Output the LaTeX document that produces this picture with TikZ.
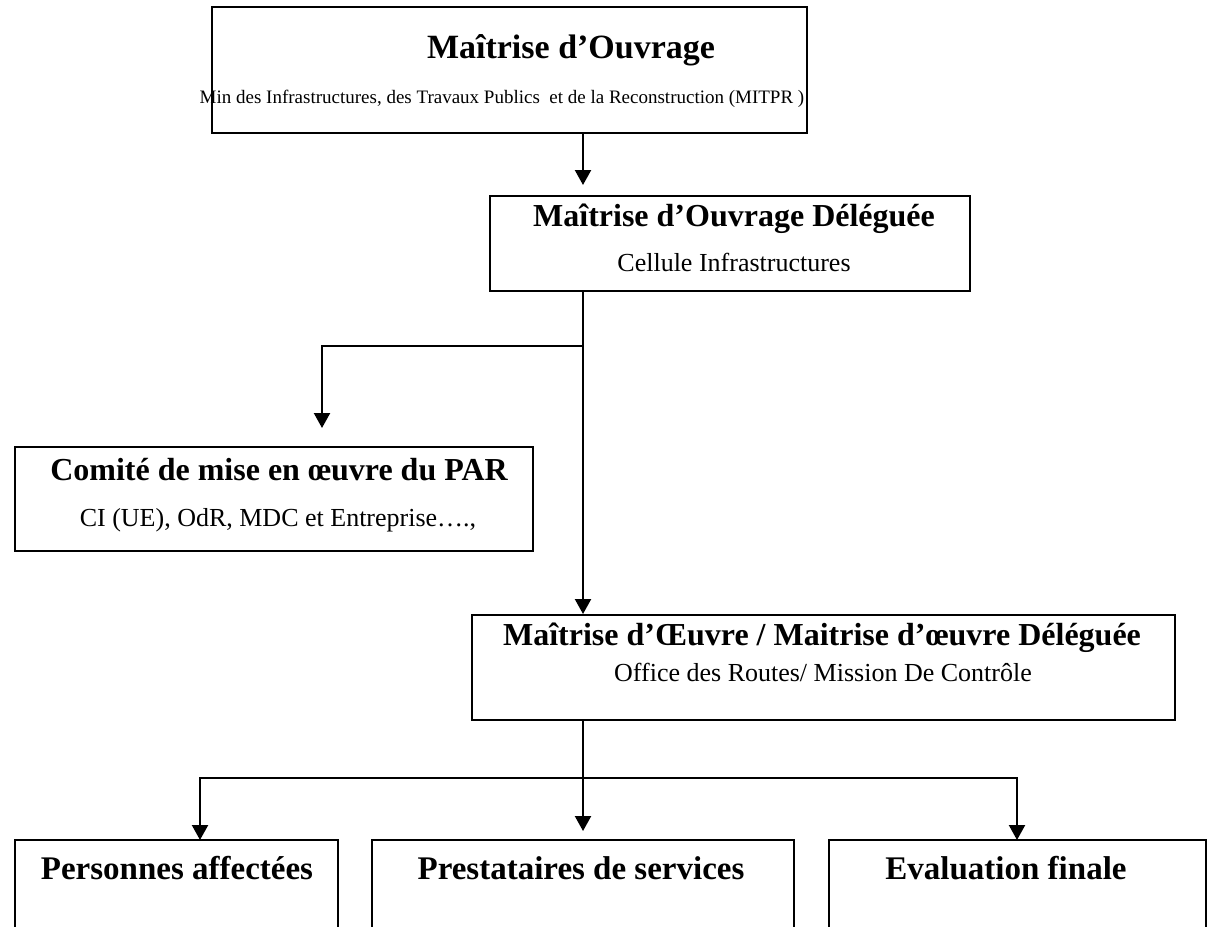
\documentclass[tikz,border=0pt]{standalone}
\usepackage{fontspec}
\setmainfont{Liberation Serif}
\usetikzlibrary{arrows.meta}
\begin{document}
\begin{tikzpicture}[x=1pt,y=-1pt,
  box/.style={draw,line width=2.2pt,inner sep=0pt},
  openbox/.style={inner sep=0pt},
  ttl/.style={font=\fontsize{32}{38}\selectfont\bfseries,inner sep=0pt},
  bigttl/.style={font=\fontsize{34}{40}\selectfont\bfseries,inner sep=0pt},
  botttl/.style={font=\fontsize{33}{39}\selectfont\bfseries,inner sep=0pt},
  sub/.style={font=\fontsize{26}{31}\selectfont,inner sep=0pt},
  smallsub/.style={font=\fontsize{19}{23}\selectfont,inner sep=0pt},
  conn/.style={line width=2.2pt},
  arr/.style={conn,-{Triangle[length=15pt,width=16pt]}}]
\useasboundingbox (0,0) rectangle (1209,926);
% boxes
\node[box,minimum width=595pt,minimum height=126pt] (A) at (509.5,70) {};
\node[box,minimum width=480pt,minimum height=95pt] (B) at (730,243.5) {};
\node[box,minimum width=518pt,minimum height=104pt] (C) at (274,499) {};
\node[box,minimum width=703pt,minimum height=105pt] (D) at (823.5,667.5) {};
\node[openbox,minimum width=323pt,minimum height=100pt] (E1) at (176.5,890) {};
\node[openbox,minimum width=422pt,minimum height=100pt] (E2) at (583,890) {};
\node[openbox,minimum width=377pt,minimum height=100pt] (E3) at (1017.5,890) {};
\draw[conn] (E1.south west) |- (E1.north east) -- (E1.south east);
\draw[conn] (E2.south west) |- (E2.north east) -- (E2.south east);
\draw[conn] (E3.south west) |- (E3.north east) -- (E3.south east);
% texts
\node[bigttl] (At) at (571,50) {Maîtrise d’Ouvrage};
\node[smallsub] (As) at (502,99) {Min des Infrastructures, des Travaux Publics \ et de la Reconstruction (MITPR )};
\node[ttl] (Bt) at (734,219) {Maîtrise d’Ouvrage Déléguée};
\node[sub] (Bs) at (734,262) {Cellule Infrastructures};
\node[ttl] (Ct) at (279,470) {Comité de mise en œuvre du PAR};
\node[sub] (Cs) at (278,520) {CI (UE), OdR, MDC et Entreprise….,};
\node[ttl] (Dt) at (822,638) {Maîtrise d’Œuvre / Maitrise d’œuvre Déléguée};
\node[sub] (Ds) at (823,672) {Office des Routes/ Mission De Contrôle};
\node[botttl] (E1t) at (177,868) {Personnes affectées};
\node[botttl] (E2t) at (581,868) {Prestataires de services};
\node[botttl] (E3t) at (1006,868) {Evaluation finale};
% connectors
\coordinate (tipB) at (583,185);
\draw[arr] (583,0 |- A.south) -- (tipB);
\coordinate (j1) at (583,346);
\coordinate (tipC) at (322,428);
\coordinate (tipD) at (583,614);
\draw[conn] (583,0 |- B.south) -- (j1);
\draw[arr] (j1) -- (tipD);
\draw[arr] (j1) -| (tipC);
\coordinate (j2) at (583,778);
\coordinate (tipE1) at (200,840);
\coordinate (tipE2) at (583,831);
\coordinate (tipE3) at (1017,840);
\draw[arr] (583,0 |- D.south) -- (tipE2);
\draw[arr] (j2) -| (tipE1);
\draw[arr] (j2) -| (tipE3);
\end{tikzpicture}
\end{document}
